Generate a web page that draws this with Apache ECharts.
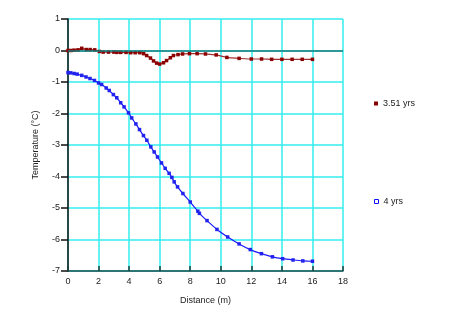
<!DOCTYPE html>
<html><head><meta charset="utf-8">
<script src="https://cdn.jsdelivr.net/npm/echarts@6/dist/echarts.min.js"></script>
<style>html,body{margin:0;padding:0;background:#fff}#c{width:453px;height:325px}</style>
</head><body><div id="c"></div>
<script>
const xTicks = [0,2,4,6,8,10,12,14,16,18];
const yTicks = [-7,-6,-5,-4,-3,-2,-1,0,1];
const seriesNames = ['3.51 yrs','4 yrs'];
const redX = [0,0.2,0.4,0.65,0.9,1.2,1.45,1.75,2.05,2.3,2.65,3.0,3.2,3.45,3.8,4.1,4.4,4.7,4.95,5.15,5.4,5.6,5.8,6.0,6.25,6.45,6.7,6.9,7.2,7.5,7.95,8.45,9.0,9.7,10.4,11.2,12.0,12.67,13.33,14.0,14.67,15.33,16.0];
const redY = [0,0,0.01,0.02,0.07,0.03,0.03,0.02,-0.03,-0.05,-0.05,-0.05,-0.06,-0.06,-0.06,-0.07,-0.07,-0.07,-0.1,-0.16,-0.24,-0.33,-0.4,-0.43,-0.39,-0.32,-0.23,-0.16,-0.13,-0.11,-0.1,-0.1,-0.11,-0.14,-0.22,-0.25,-0.27,-0.27,-0.28,-0.28,-0.28,-0.28,-0.28];
const blueX = [0,0.18,0.4,0.6,0.9,1.18,1.44,1.73,2.0,2.2,2.5,2.7,2.97,3.19,3.45,3.67,3.96,4.17,4.44,4.68,4.94,5.16,5.42,5.64,5.86,6.12,6.36,6.62,6.8,6.95,7.17,7.52,8.0,8.5,8.6,9.1,9.75,10.45,11.2,11.93,12.66,13.38,14.05,14.73,15.37,16.0];
const blueY = [-0.7,-0.71,-0.73,-0.75,-0.79,-0.84,-0.89,-0.95,-1.03,-1.08,-1.19,-1.27,-1.4,-1.5,-1.66,-1.79,-1.98,-2.14,-2.33,-2.51,-2.7,-2.85,-3.06,-3.22,-3.38,-3.57,-3.74,-3.9,-4.03,-4.17,-4.33,-4.54,-4.81,-5.1,-5.17,-5.4,-5.68,-5.92,-6.14,-6.32,-6.45,-6.55,-6.61,-6.65,-6.68,-6.69];

const font = 'Liberation Sans, Arial, sans-serif';
const chart = echarts.init(document.getElementById('c'), null, {renderer:'canvas'});
chart.setOption({
  animation:false,
  backgroundColor:'#fff',
  grid:{left:68,right:110,top:19,bottom:54,containLabel:false},
  legend:[
    {data:[{name:seriesNames[0],itemStyle:{color:'#8b0000'}}],left:369,top:94,orient:'vertical',icon:'rect',itemWidth:4,itemHeight:4,
     textStyle:{fontFamily:font,fontSize:9,color:'#222'}},
    {data:[{name:seriesNames[1],itemStyle:{color:'#fff',borderColor:'#1010ff',borderWidth:1}}],left:369,top:192,orient:'vertical',icon:'rect',itemWidth:4,itemHeight:4,
     textStyle:{fontFamily:font,fontSize:9,color:'#222'}}
  ],
  xAxis:{type:'value',min:xTicks[0],max:xTicks[xTicks.length-1],interval:2,
    name:'Distance (m)',nameLocation:'middle',nameGap:25,
    nameTextStyle:{fontFamily:font,fontSize:9,color:'#222'},
    axisLine:{onZero:false,lineStyle:{color:'#1d4d4d',width:1.5}},
    axisTick:{show:true,inside:true,length:5,lineStyle:{color:'#1d3d3d',width:1.5}},
    axisLabel:{fontFamily:font,fontSize:9,color:'#222',margin:6},
    splitLine:{show:true,lineStyle:{color:'#33eeee',width:1.5}}},
  yAxis:{type:'value',min:yTicks[0],max:yTicks[yTicks.length-1],interval:1,
    name:'Temperature (°C)',nameLocation:'middle',nameGap:28,nameRotate:90,
    nameTextStyle:{fontFamily:font,fontSize:9,color:'#222'},
    axisLine:{show:true,onZero:false,lineStyle:{color:'#111',width:1.5}},
    axisTick:{show:true,length:7,lineStyle:{color:'#111',width:1.5}},
    axisLabel:{fontFamily:font,fontSize:9,color:'#222',margin:8},
    splitLine:{show:true,lineStyle:{color:'#33eeee',width:1.5}}},
  series:[
    {name:seriesNames[0],type:'line',data:redX.map((x,i)=>[x,redY[i]]),smooth:0.3,
     symbol:'rect',symbolSize:3.5,showSymbol:true,
     lineStyle:{color:'#a03030',width:1.2},itemStyle:{color:'#8b0000'},
     markLine:{silent:true,symbol:'none',label:{show:false},
       lineStyle:{color:'#1a7a7a',width:1.5,type:'solid'},data:[{yAxis:0}]},
     z:3},
    {name:seriesNames[1],type:'line',data:blueX.map((x,i)=>[x,blueY[i]]),smooth:0.3,
     symbol:'rect',symbolSize:3.5,showSymbol:true,
     lineStyle:{color:'#1a1aff',width:1.2},itemStyle:{color:'#2222ee'},z:3}
  ]
});
</script></body></html>
